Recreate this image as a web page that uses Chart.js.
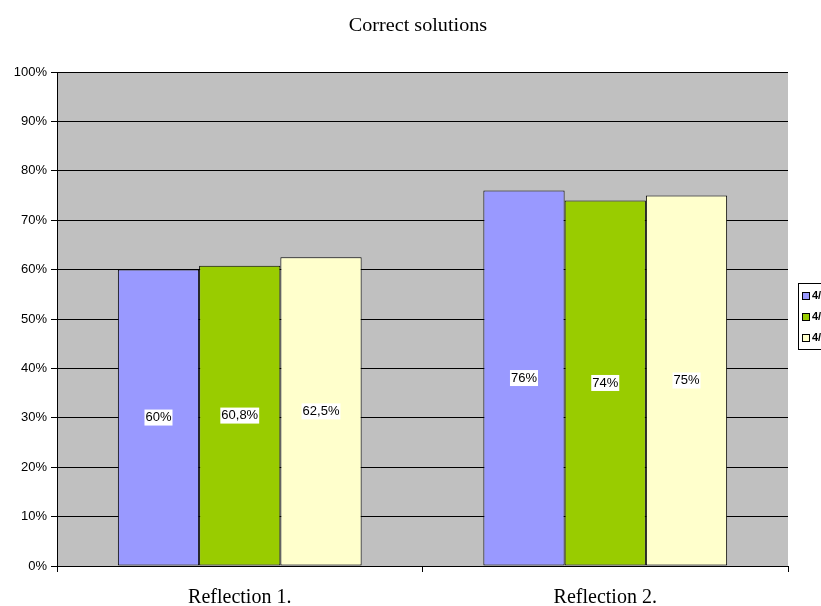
<!DOCTYPE html>
<html>
<head>
<meta charset="utf-8">
<script src="https://cdn.jsdelivr.net/npm/chart.js@4/dist/chart.umd.min.js"></script>
<style>
  html, body { margin: 0; padding: 0; background: #fff; }
  #wrap { width: 821px; height: 606px; position: relative; }
</style>
</head>
<body>
<div id="wrap"><canvas id="barChart"></canvas></div>
<script>
// data
let chartTitle = 'Correct solutions';
let categories = ['Reflection 1.', 'Reflection 2.'];
let seriesNames = ['4/1', '4/2', '4/3'];
let seriesA = [60, 76];
let seriesB = [60.8, 74];
let seriesC = [62.5, 75];
let valueLabels = [['60%', '76%'], ['60,8%', '74%'], ['62,5%', '75%']];
let barColors = ['#9999ff', '#99cc00', '#ffffcc'];

// gray plot area
let plotBackground = {
  id: 'plotBackground',
  beforeDraw(chart) {
    let ctx = chart.ctx, a = chart.chartArea;
    ctx.save();
    ctx.fillStyle = '#c0c0c0';
    ctx.fillRect(a.left, a.top, a.right - a.left, a.bottom - a.top);
    ctx.restore();
  }
};

// title, a bit stretched like the original picture
let titleText = {
  id: 'titleText',
  afterDraw(chart) {
    let ctx = chart.ctx;
    ctx.save();
    ctx.font = '18px "Liberation Serif", "Times New Roman", serif';
    ctx.textAlign = 'center';
    ctx.textBaseline = 'middle';
    ctx.fillStyle = '#000000';
    ctx.translate(418, 26);
    ctx.scale(1.12, 1);
    ctx.fillText(chartTitle, 0, 0);
    ctx.restore();
  }
};

// white boxed value labels in the middle of each bar
let barLabels = {
  id: 'barLabels',
  afterDatasetsDraw(chart) {
    let ctx = chart.ctx;
    ctx.save();
    ctx.font = '13px "Liberation Sans", Arial, sans-serif';
    ctx.textAlign = 'center';
    ctx.textBaseline = 'middle';
    chart.data.datasets.forEach((ds, i) => {
      chart.getDatasetMeta(i).data.forEach((bar, j) => {
        let txt = valueLabels[i][j];
        let y = (bar.y + bar.base) / 2;
        let w = ctx.measureText(txt).width + 2;
        ctx.fillStyle = '#ffffff';
        ctx.fillRect(bar.x - w / 2, y - 8, w, 16);
        ctx.fillStyle = '#000000';
        ctx.fillText(txt, bar.x, y);
      });
    });
    ctx.restore();
  }
};

// legend box, cut off by the right edge as in the picture
let sideLegend = {
  id: 'sideLegend',
  afterDraw(chart) {
    let ctx = chart.ctx;
    let x = 798, y = 283;
    ctx.save();
    ctx.fillStyle = '#ffffff';
    ctx.strokeStyle = '#000000';
    ctx.lineWidth = 1;
    ctx.fillRect(x + 0.5, y + 0.5, 60, 66);
    ctx.strokeRect(x + 0.5, y + 0.5, 60, 66);
    ctx.font = 'bold 11px "Liberation Sans", Arial, sans-serif';
    ctx.textBaseline = 'middle';
    chart.data.datasets.forEach((ds, i) => {
      let cy = y + 13 + i * 21;
      ctx.fillStyle = ds.backgroundColor;
      ctx.fillRect(x + 4.5, cy - 3.5, 7, 7);
      ctx.strokeRect(x + 4.5, cy - 3.5, 7, 7);
      ctx.fillStyle = '#000000';
      ctx.fillText(ds.label, x + 14, cy);
    });
    ctx.restore();
  }
};

let ctx = document.getElementById('barChart').getContext('2d');

let myBarChart = new Chart(ctx, {
  type: 'bar',
  data: {
    labels: categories,
    datasets: [seriesA, seriesB, seriesC].map((d, i) => ({
      label: seriesNames[i],
      data: d,
      backgroundColor: barColors[i],
      borderColor: '#000000',
      borderWidth: 1,
      borderSkipped: false
    }))
  },
  options: {
    responsive: true,
    maintainAspectRatio: false,
    animation: false,
    events: [],
    layout: {
      padding: { left: 0, right: 33, top: 72, bottom: 0 }
    },
    datasets: {
      bar: { categoryPercentage: 0.667, barPercentage: 1 }
    },
    plugins: {
      legend: { display: false },
      tooltip: { enabled: false },
      title: { display: false }
    },
    scales: {
      x: {
        grid: {
          offset: true,
          drawOnChartArea: false,
          tickLength: 6,
          color: '#000000'
        },
        border: { color: '#000000' },
        ticks: {
          color: '#000000',
          padding: 14,
          font: { family: '"Liberation Serif", "Times New Roman", serif', size: 20 }
        },
        afterFit(axis) { axis.height = 40; }
      },
      y: {
        min: 0,
        max: 100,
        grid: {
          color: '#000000',
          tickLength: 6
        },
        border: { color: '#000000' },
        ticks: {
          stepSize: 10,
          color: '#000000',
          padding: 4,
          font: { family: '"Liberation Sans", Arial, sans-serif', size: 13 },
          callback: v => v + '%'
        },
        afterFit(axis) { axis.width = 57; }
      }
    }
  },
  plugins: [plotBackground, barLabels, sideLegend, titleText]
});
</script>
</body>
</html>
